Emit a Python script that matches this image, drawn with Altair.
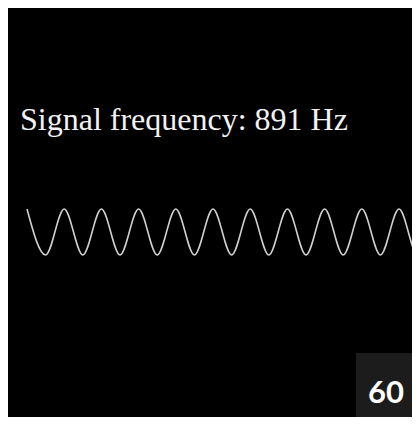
import altair as alt
import pandas as pd

# Extrema of the displayed waveform (in cycles, normalised amplitude)
extrema_cycle = [0, 0.5, 1, 1.5, 2, 2.5, 3, 3.5, 4, 4.5, 5, 5.5, 6, 6.5, 7, 7.5, 8, 8.5, 9, 9.5, 10, 10.5, 11]
extrema_amp = [1, -1, 1, -1, 1, -1, 1, -1, 1, -1, 1, -1, 1, -1, 1, -1, 1, -1, 1, -1, 1, -1, 1]

title_text = ["Signal frequency: 891 Hz"]
badge_text = ["60"]

wave = pd.DataFrame({"cycle": extrema_cycle, "amp": extrema_amp})

W, H = 404, 409

line = alt.Chart(wave).mark_line(
    interpolate="monotone", color="#d0d0d0", strokeWidth=1.6, clip=True
).encode(
    x=alt.X("cycle:Q", scale=alt.Scale(domain=[-0.511, 10.349], nice=False, zero=False), axis=None),
    y=alt.Y("amp:Q", scale=alt.Scale(domain=[-8.043, 9.739], nice=False, zero=False), axis=None),
)

title = alt.Chart(pd.DataFrame({"t": title_text})).mark_text(
    align="left", baseline="alphabetic", font="Liberation Serif", fontSize=32, color="#f2f2f2"
).encode(x=alt.value(12), y=alt.value(122), text="t:N")

box = alt.Chart(pd.DataFrame({"t": badge_text})).mark_rect(color="#1c1c1c").encode(
    x=alt.value(348), x2=alt.value(W), y=alt.value(345), y2=alt.value(H)
)

badge = alt.Chart(pd.DataFrame({"t": badge_text})).mark_text(
    align="center", baseline="alphabetic", font="Lato", fontWeight="bold", fontSize=31, color="#ffffff"
).encode(x=alt.value(378), y=alt.value(395), text="t:N")

chart = alt.layer(line, title, box, badge).properties(
    width=W, height=H, background="#000000", padding=0,
    autosize=alt.AutoSizeParams(type="fit", contains="padding"),
).configure_view(stroke=None)

chart.save("out.html", embed_options={"renderer": "svg", "actions": False})
